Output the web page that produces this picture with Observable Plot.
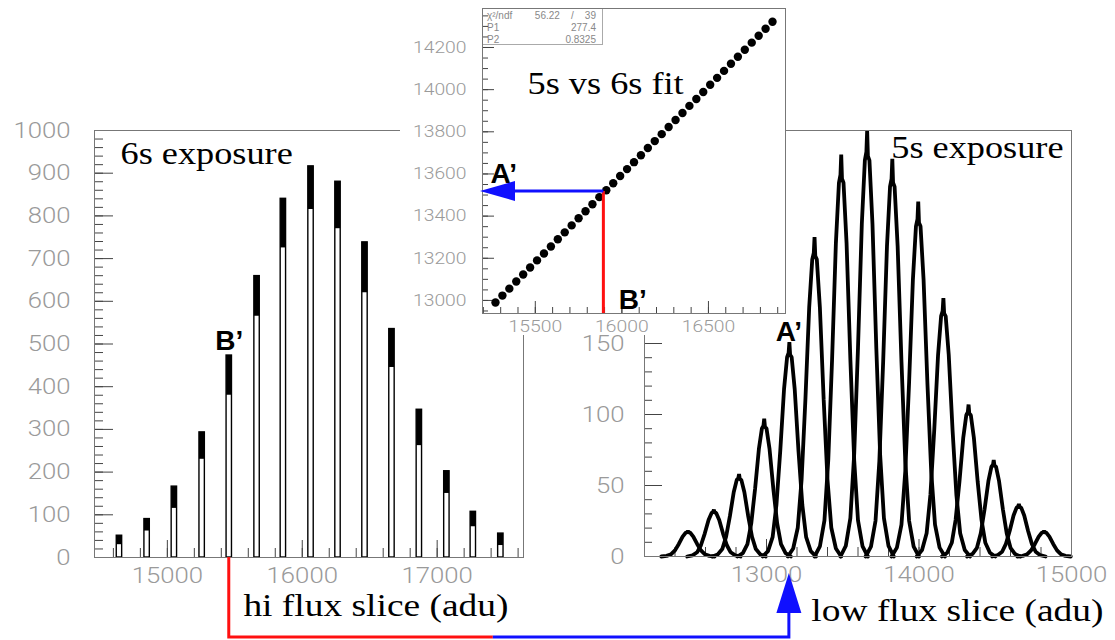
<!DOCTYPE html>
<html><head><meta charset="utf-8">
<script src="https://cdn.jsdelivr.net/npm/d3@7"></script>
<script src="https://cdn.jsdelivr.net/npm/@observablehq/plot@0.6"></script>
<style>
body{margin:0;background:#fff}
#fig{position:relative;width:1115px;height:640px;overflow:hidden;background:#fff}
#fig > *{position:absolute}
#insetBg{left:400px;top:0;width:386px;height:335px;background:#fff}
#stats{left:482px;top:8px;width:121px;height:37px;box-sizing:border-box;border:1px solid #aaa;background:#fff;
  font:10px "Liberation Sans",sans-serif;color:#888;padding-top:1px}
#stats .row{display:flex;justify-content:space-between;height:12px;line-height:12px;padding:0 6px 0 4px;white-space:pre}
</style></head><body><div id="fig"></div>
<script>
// ---------------- data ----------------
// 6s exposure (hi flux slice): peak centres (adu), top of noisy cap, bottom of noisy cap (counts)
const hiCenters = [14645, 14850, 15052, 15258, 15459, 15665, 15860, 16065, 16265, 16465, 16665, 16868, 17072, 17268, 17472];
const hiTop     = [51, 90, 166, 293, 473, 659, 840, 916, 880, 738, 535, 346, 202, 107, 56];
const hiLow     = [30, 62, 115, 230, 380, 565, 725, 815, 770, 620, 445, 262, 150, 72, 28];
const hiBinWidth = 40;
const hiXTicks = [15000, 16000, 17000];
const hiYTicks = [0, 100, 200, 300, 400, 500, 600, 700, 800, 900, 1000];

// 5s exposure (low flux slice): peak centres (adu) and peak heights (counts)
const loCenters = [12485, 12655, 12820, 12985, 13150, 13315, 13490, 13660, 13825, 13995, 14160, 14325, 14490, 14655, 14820];
const loHeights = [18, 33, 58, 97, 151, 225, 283, 300, 280, 250, 182, 107, 68, 37, 18];
// shape of one peak: offset from centre (adu) and fraction of peak height
const peakOffset = [-175, -140, -110, -85, -60, -35, -15, -5, 0, 5, 15, 35, 60, 85, 110, 140, 175];
const peakShape  = [0, 0.025, 0.09, 0.24, 0.49, 0.78, 0.93, 0.95, 1, 0.94, 0.93, 0.78, 0.49, 0.24, 0.09, 0.025, 0];
const loXTicks = [13000, 14000, 15000];
const loYTicks = [0, 50, 100, 150];
const loYMajor = [0, 50, 100, 150, 200, 250, 300];

// 5s vs 6s fit points
const fitX = [15270,15310,15350,15390,15430,15470,15510,15550,15590,15630,15670,15710,15750,15790,15830,15870,15910,15950,15990,16030,16070,16110,16150,16190,16230,16270,16310,16350,16390,16430,16470,16510,16550,16590,16630,16670,16710,16750,16790,16830,16870];
const fitY = [12990,13023,13056,13090,13123,13156,13190,13223,13256,13290,13323,13356,13390,13423,13456,13490,13523,13556,13590,13623,13656,13689,13723,13756,13789,13823,13856,13889,13923,13956,13989,14023,14056,14089,14123,14156,14189,14223,14256,14289,14322];
const fitXTicks = [15500, 16000, 16500];
const fitYTicks = [13000, 13200, 13400, 13600, 13800, 14000, 14200];
const statNames  = ["χ²/ndf", "P1", "P2"];
const statValues = ["56.22    /    39", "277.4", "0.8325"];

// marked values
const bHi = 15459;     // B' in the 6s histogram
const aLo = 13150;     // A' in the 5s histogram
const bFit = 15896;    // B' on the fit x axis
const aFit = 13517;    // A' on the fit y axis

const titles = {hi: "6s exposure", lo: "5s exposure", fit: "5s vs 6s fit",
  hiAxis: "hi flux slice (adu)", loAxis: "low flux slice (adu)"};

// ---------------- layout ----------------
const K = 1.17; // horizontal glyph stretch of the original
const L = {left:0, top:100, width:540, height:540, mL:94, mR:17, mT:30, mB:83};
const R = {left:560, top:100, width:555, height:540, mL:84, mR:44, mT:30, mB:84};
const I = {left:400, top:0, width:395, height:340, mL:82, mR:10, mT:8, mB:27};
const fw = p => p.width - p.mL - p.mR;
const fh = p => p.height - p.mT - p.mB;
const tickStroke = "#444", frameStroke = "#777";
const serif = "Liberation Serif", bold = {fontFamily:"Liberation Sans", fontWeight:"bold", fontSize:28, fill:"#000"};
const baseStyle = fs => ({background:"transparent", color:"#9a9a9a", fontFamily:"Roboto", fontWeight:"300", fontSize:fs, overflow:"visible"});
const fmt = d => String(d);

const hiRows = hiCenters.map((c,i)=>({c, top:hiTop[i], low:hiLow[i]}));
const loRows = [];
loCenters.forEach((c,i)=>peakOffset.forEach((o,j)=>loRows.push({peak:i, x:c+o, y:loHeights[i]*peakShape[j]})));
const fitRows = fitX.map((x,i)=>({x, y:fitY[i]}));

// ---------------- left: 6s exposure ----------------
const leftPlot = Plot.plot({
  width:L.width, height:L.height, marginLeft:L.mL, marginRight:L.mR, marginTop:L.mT, marginBottom:L.mB,
  style: baseStyle("22px"),
  x: {domain:[14460, 17640], ticks:hiXTicks, tickSize:0, tickPadding:10, tickFormat:fmt, label:null},
  y: {domain:[0, 1000], ticks:hiYTicks, tickSize:0, tickPadding:24, tickFormat:fmt, label:null},
  marks: [
    Plot.tickY(d3.range(0, 1001, 20), {y:d=>d, stroke:tickStroke, insetRight:fw(L)-9}),
    Plot.tickY(hiYTicks, {y:d=>d, stroke:tickStroke, insetRight:fw(L)-19}),
    Plot.tickX(d3.range(14600, 17601, 200), {x:d=>d, stroke:tickStroke, insetTop:fh(L)-9}),
    Plot.tickX(hiXTicks, {x:d=>d, stroke:tickStroke, insetTop:fh(L)-17}),
    Plot.rect(hiRows, {x1:d=>d.c-hiBinWidth/2, x2:d=>d.c+hiBinWidth/2, y1:0, y2:"top", stroke:"#000", strokeWidth:1.4, fill:"none"}),
    Plot.rect(hiRows, {x1:d=>d.c-hiBinWidth/2, x2:d=>d.c+hiBinWidth/2, y1:"low", y2:"top", fill:"#000"}),
    Plot.frame({stroke:frameStroke}),
    Plot.text([titles.hi], {text:d=>d, frameAnchor:"top-left", dx:26, dy:33, lineAnchor:"bottom", textAnchor:"start", fontFamily:serif, fontWeight:"normal", fontSize:31, fill:"#000"}),
    Plot.text([titles.hiAxis], {text:d=>d, frameAnchor:"bottom-right", dx:-15, dy:58, lineAnchor:"bottom", textAnchor:"end", fontFamily:serif, fontWeight:"normal", fontSize:32, fill:"#000"}),
    Plot.text([{x:bHi, y:hiTop[hiCenters.indexOf(bHi)]}], {x:"x", y:"y", text:()=>"B’", dy:-6, lineAnchor:"bottom", ...bold})
  ]
});

// ---------------- right: 5s exposure ----------------
const rightPlot = Plot.plot({
  width:R.width, height:R.height, marginLeft:R.mL, marginRight:R.mR, marginTop:R.mT, marginBottom:R.mB,
  style: baseStyle("22px"),
  x: {domain:[12200, 15000], ticks:loXTicks, tickSize:0, tickPadding:10, tickFormat:fmt, label:null},
  y: {domain:[0, 300], ticks:loYTicks, tickSize:0, tickPadding:20, tickFormat:fmt, label:null},
  marks: [
    Plot.tickY(d3.range(0, 301, 10), {y:d=>d, stroke:tickStroke, insetRight:fw(R)-8}),
    Plot.tickY(loYMajor, {y:d=>d, stroke:tickStroke, insetRight:fw(R)-18}),
    Plot.tickX(d3.range(12200, 15001, 200), {x:d=>d, stroke:tickStroke, insetTop:fh(R)-9}),
    Plot.tickX(loXTicks, {x:d=>d, stroke:tickStroke, insetTop:fh(R)-17}),
    Plot.line(loRows, {x:"x", y:"y", z:"peak", stroke:"#000", strokeWidth:3.8, strokeLinejoin:"miter"}),
    Plot.frame({stroke:frameStroke}),
    Plot.text([titles.lo], {text:d=>d, frameAnchor:"top-right", dx:-8, dy:27, lineAnchor:"bottom", textAnchor:"end", fontFamily:serif, fontWeight:"normal", fontSize:31, fill:"#000"}),
    Plot.text([titles.loAxis], {text:d=>d, frameAnchor:"bottom-right", dx:32, dy:64, lineAnchor:"bottom", textAnchor:"end", fontFamily:serif, fontWeight:"normal", fontSize:32, fill:"#000"})
  ]
});

// ---------------- inset: fit ----------------
const insetPlot = Plot.plot({
  width:I.width, height:I.height, marginLeft:I.mL, marginRight:I.mR, marginTop:I.mT, marginBottom:I.mB,
  style: baseStyle("16.5px"),
  x: {domain:[15195, 16945], ticks:fitXTicks, tickSize:0, tickPadding:7, tickFormat:fmt, label:null},
  y: {domain:[12938, 14385], ticks:fitYTicks, tickSize:0, tickPadding:16, tickFormat:fmt, label:null},
  marks: [
    Plot.tickY(d3.range(12950, 14385, 50), {y:d=>d, stroke:tickStroke, insetRight:fw(I)-6}),
    Plot.tickY(fitYTicks, {y:d=>d, stroke:tickStroke, insetRight:fw(I)-12}),
    Plot.tickX(d3.range(15200, 16945, 100), {x:d=>d, stroke:tickStroke, insetTop:fh(I)-6}),
    Plot.tickX(fitXTicks, {x:d=>d, stroke:tickStroke, insetTop:fh(I)-12}),
    Plot.dot(fitRows, {x:"x", y:"y", r:4.2, fill:"#000"}),
    Plot.frame({stroke:frameStroke}),
    Plot.text([titles.fit], {text:d=>d, frameAnchor:"top-left", dx:45, dy:85, lineAnchor:"bottom", textAnchor:"start", fontFamily:serif, fontWeight:"normal", fontSize:31, fill:"#000"}),
    Plot.text([aFit], {y:d=>d, text:()=>"A’", frameAnchor:"left", dx:8, dy:-8, textAnchor:"start", lineAnchor:"bottom", ...bold}),
    Plot.text([bFit], {x:d=>d, text:()=>"B’", frameAnchor:"bottom", dx:15, dy:-5, textAnchor:"start", lineAnchor:"bottom", ...bold})
  ]
});

// ---------------- assemble ----------------
const fig = document.getElementById("fig");
function place(el, p){ el.style.left = p.left + "px"; el.style.top = p.top + "px"; fig.appendChild(el); }
place(leftPlot, L);
place(rightPlot, R);
const bg = document.createElement("div"); bg.id = "insetBg"; fig.appendChild(bg);
const stats = document.createElement("div"); stats.id = "stats";
statNames.forEach((n,i)=>{ const r=document.createElement("div"); r.className="row";
  const a=document.createElement("span"); a.textContent=n; const b=document.createElement("span"); b.textContent=statValues[i];
  r.appendChild(a); r.appendChild(b); stats.appendChild(r); });
fig.appendChild(stats);
place(insetPlot, I);

// stretch glyphs horizontally like the original
[leftPlot, rightPlot, insetPlot].forEach(svg => {
  d3.select(svg).selectAll("text").each(function(){
    if (this.textContent.includes("’")) return;
    const w = this.getComputedTextLength();
    if (w > 0) { this.setAttribute("textLength", w*K); this.setAttribute("lengthAdjust", "spacingAndGlyphs"); }
  });
});

// connector arrows, positioned through the plots' own scales
const ov = d3.select(fig).append("svg").attr("width",1115).attr("height",640).style("left","0px").style("top","0px");
const red = "#ff1010", blue = "#1010ff";
const bx = leftPlot.scale("x").apply(bHi) + L.left;
const by = leftPlot.scale("y").apply(0) + L.top;
const ax = rightPlot.scale("x").apply(aLo) + R.left;
const ay = rightPlot.scale("y").apply(0) + R.top;
const railY = 637, mid = (bx + ax) / 2 - 16;
ov.append("path").attr("d", `M${bx},${by}V${railY}H${mid}`).attr("stroke", red).attr("stroke-width", 3).attr("fill", "none");
ov.append("path").attr("d", `M${mid},${railY}H${ax}V${ay+56}`).attr("stroke", blue).attr("stroke-width", 3).attr("fill", "none");
ov.append("path").attr("d", `M${ax},${ay+17}L${ax-12.5},${ay+57}L${ax+12.5},${ay+57}Z`).attr("fill", blue);
ov.append("text").attr("x", ax).attr("y", rightPlot.scale("y").apply(loHeights[loCenters.indexOf(aLo)]) + R.top - 1)
  .attr("text-anchor", "middle").attr("font-family", "Liberation Sans").attr("font-weight", "bold").attr("font-size", 28).text("A’");

const ix = insetPlot.scale("x").apply(bFit) + I.left;
const iy0 = insetPlot.scale("y").apply(12938) + I.top;
const iy = insetPlot.scale("y").apply(aFit) + I.top;
const tip = I.left + I.mL - 2;
ov.append("path").attr("d", `M${ix},${iy0}V${iy}`).attr("stroke", red).attr("stroke-width", 3).attr("fill", "none");
ov.append("path").attr("d", `M${ix},${iy}H${tip+34}`).attr("stroke", blue).attr("stroke-width", 3).attr("fill", "none");
ov.append("path").attr("d", `M${tip},${iy}L${tip+35},${iy-10}L${tip+35},${iy+10}Z`).attr("fill", blue);
</script></body></html>
